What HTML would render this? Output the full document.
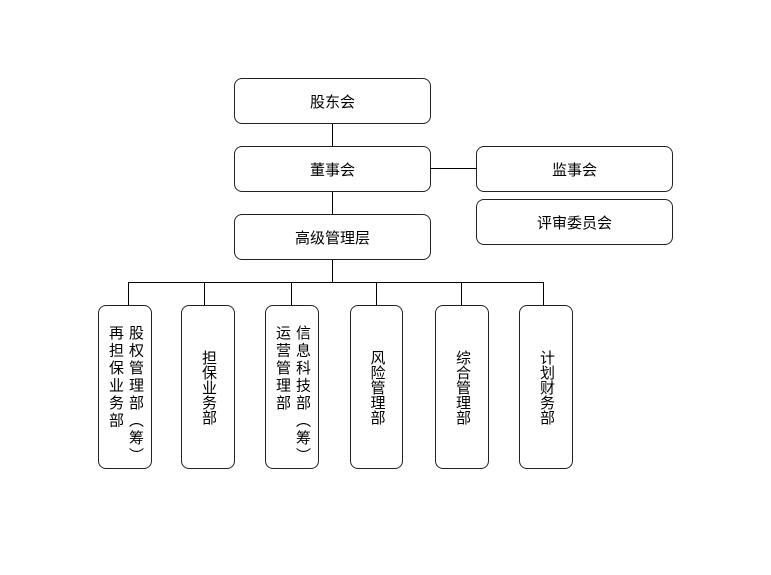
<!DOCTYPE html><html><head><meta charset="utf-8"><style>
body{margin:0;width:771px;height:575px;background:#fff;position:relative;font-family:"Liberation Sans","Noto Sans CJK SC",sans-serif;color:#000}
.b{position:absolute;border:1.5px solid #222;border-radius:8px;box-sizing:border-box;display:flex;align-items:center;justify-content:center;font-size:15px}
.v{writing-mode:vertical-rl;line-height:20px;font-size:15px}
.v2{writing-mode:vertical-rl;line-height:20px;font-size:15px;letter-spacing:2.5px;margin-top:16px;white-space:nowrap}
.l{position:absolute;background:#000}
</style></head><body>
<div class="b" style="left:234px;top:78px;width:197px;height:46px">股东会</div>
<div class="b" style="left:234px;top:146px;width:197px;height:46px">董事会</div>
<div class="b" style="left:234px;top:214px;width:197px;height:46px">高级管理层</div>
<div class="b" style="left:476px;top:146px;width:197px;height:46px">监事会</div>
<div class="b" style="left:476px;top:199px;width:197px;height:46px">评审委员会</div>
<div class="l" style="left:332px;top:124px;width:1px;height:22px"></div>
<div class="l" style="left:332px;top:192px;width:1px;height:22px"></div>
<div class="l" style="left:431px;top:168px;width:45px;height:1px"></div>
<div class="l" style="left:332px;top:260px;width:1px;height:22px"></div>
<div class="l" style="left:128px;top:282px;width:416px;height:1px"></div>
<div class="l" style="left:128px;top:282px;width:1px;height:23px"></div>
<div class="l" style="left:204px;top:282px;width:1px;height:23px"></div>
<div class="l" style="left:291px;top:282px;width:1px;height:23px"></div>
<div class="l" style="left:376px;top:282px;width:1px;height:23px"></div>
<div class="l" style="left:461px;top:282px;width:1px;height:23px"></div>
<div class="l" style="left:543px;top:282px;width:1px;height:23px"></div>
<div class="b" style="left:98px;top:305px;width:54px;height:164px"><div class="v2">股权管理部（筹）<br>再担保业务部</div></div>
<div class="b" style="left:181px;top:305px;width:54px;height:164px"><div class="v">担保业务部</div></div>
<div class="b" style="left:265px;top:305px;width:54px;height:164px"><div class="v2">信息科技部（筹）<br>运营管理部</div></div>
<div class="b" style="left:350px;top:305px;width:53px;height:164px"><div class="v">风险管理部</div></div>
<div class="b" style="left:435px;top:305px;width:54px;height:164px"><div class="v">综合管理部</div></div>
<div class="b" style="left:519px;top:305px;width:54px;height:164px"><div class="v">计划财务部</div></div>
</body></html>
